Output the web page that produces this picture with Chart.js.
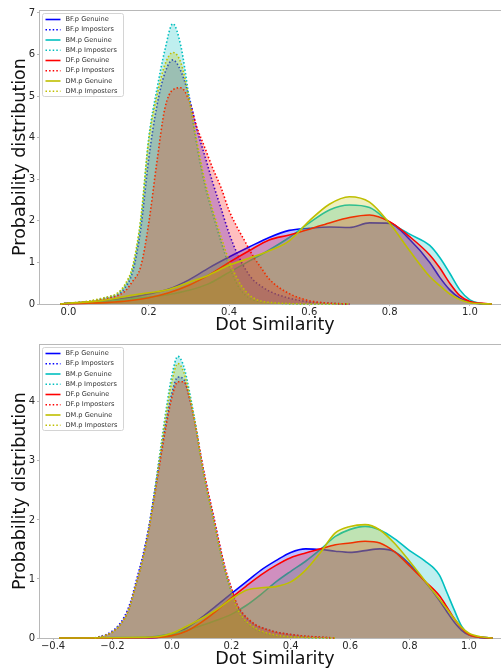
<!DOCTYPE html>
<html lang="en">
<head>
  <meta charset="UTF-8" />
  <title>Dot Similarity distributions</title>

  <!-- Chart.js for plotting -->
  <script src="https://cdn.jsdelivr.net/npm/chart.js"></script>

  <style>
    html, body {
      margin: 0;
      padding: 0;
      background: #fff;
    }

    body {
      width: 501px;
      height: 668px;
      overflow: hidden;
    }

    /* each panel is half the page, the canvas runs a bit past the right edge */
    .panel {
      width: 501px;
      height: 334px;
      overflow: hidden;
    }

    canvas {
      display: block;
    }
  </style>
</head>
<body>
  <div class="panel"><canvas id="topChart" width="510" height="334"></canvas></div>
  <div class="panel"><canvas id="bottomChart" width="510" height="334"></canvas></div>

  <script>
    // ---- series names, in legend order ----
    const seriesNames = [
      "BF.p Genuine", "BF.p Imposters",
      "BM.p Genuine", "BM.p Imposters",
      "DF.p Genuine", "DF.p Imposters",
      "DM.p Genuine", "DM.p Imposters"
    ];

    // ---- tick labels ----
    const topXTicks = [0, 0.2, 0.4, 0.6, 0.8, 1.0];
    const topYTicks = [0, 1, 2, 3, 4, 5, 6, 7];
    const botXTicks = [-0.4, -0.2, 0, 0.2, 0.4, 0.6, 0.8, 1.0];
    const botYTicks = [0, 1, 2, 3, 4];

    // ---- top panel ----
    const topImpX = [-0.02, 0, 0.05, 0.08, 0.1, 0.12, 0.14, 0.16, 0.18, 0.2, 0.22, 0.24, 0.26, 0.28, 0.3,
                     0.32, 0.34, 0.36, 0.38, 0.4, 0.42, 0.44, 0.46, 0.48, 0.5, 0.55, 0.6, 0.65, 0.7];
    const topBFImp = [0, 0.02, 0.05, 0.11, 0.16, 0.21, 0.38, 0.78, 1.8, 3.5, 4.75, 5.55, 5.87, 5.6, 5.0,
                      4.2, 3.55, 2.9, 2.3, 1.7, 1.22, 0.85, 0.58, 0.43, 0.31, 0.14, 0.05, 0.02, 0];
    const topBMImp = [0, 0.02, 0.06, 0.12, 0.17, 0.23, 0.43, 0.87, 2.0, 4.0, 5.15, 6.1, 6.74, 6.2, 5.0,
                      3.8, 2.85, 2.15, 1.5, 0.92, 0.48, 0.22, 0.1, 0.05, 0.03, 0.01, 0, 0, 0];
    const topDFImp = [0, 0.02, 0.05, 0.1, 0.14, 0.19, 0.3, 0.55, 0.9, 1.95, 3.4, 4.7, 5.15, 5.2, 4.9,
                      4.25, 3.75, 3.25, 2.8, 2.25, 1.85, 1.5, 1.15, 0.87, 0.6, 0.25, 0.08, 0.02, 0];
    const topDMImp = [0, 0.02, 0.07, 0.13, 0.18, 0.25, 0.46, 0.92, 2.05, 3.95, 5.0, 5.75, 6.05, 5.8, 4.95,
                      3.9, 2.95, 2.25, 1.62, 1.05, 0.62, 0.32, 0.15, 0.07, 0.04, 0.01, 0, 0, 0];

    const topGenX = [-0.02, 0, 0.05, 0.1, 0.15, 0.2, 0.25, 0.3, 0.35, 0.4, 0.45, 0.5, 0.55, 0.6, 0.65,
                     0.7, 0.75, 0.8, 0.85, 0.9, 0.925, 0.95, 0.975, 1.0, 1.025, 1.055];
    const topBFGen = [0, 0.02, 0.05, 0.09, 0.15, 0.24, 0.36, 0.58, 0.87, 1.13, 1.37, 1.6, 1.77, 1.82, 1.85,
                      1.84, 1.95, 1.94, 1.55, 1.0, 0.64, 0.34, 0.14, 0.04, 0.01, 0];
    const topBMGen = [0, 0.01, 0.03, 0.07, 0.12, 0.17, 0.23, 0.33, 0.49, 0.76, 1.03, 1.3, 1.6, 1.95, 2.26,
                      2.38, 2.32, 1.97, 1.68, 1.41, 1.12, 0.74, 0.34, 0.1, 0.02, 0];
    const topDFGen = [0, 0.01, 0.02, 0.04, 0.08, 0.15, 0.27, 0.45, 0.7, 1.0, 1.28, 1.54, 1.66, 1.8, 1.95,
                      2.08, 2.14, 1.98, 1.62, 1.18, 0.87, 0.5, 0.2, 0.06, 0.02, 0];
    const topDMGen = [0, 0.02, 0.05, 0.11, 0.2, 0.27, 0.35, 0.52, 0.7, 0.93, 1.1, 1.28, 1.52, 2.0, 2.4,
                      2.58, 2.45, 1.94, 1.28, 0.66, 0.44, 0.24, 0.11, 0.03, 0.01, 0];

    // ---- bottom panel ----
    const botImpX = [-0.26, -0.24, -0.22, -0.2, -0.18, -0.16, -0.14, -0.12, -0.1, -0.08, -0.06, -0.04, -0.02,
                     0, 0.02, 0.04, 0.06, 0.08, 0.1, 0.12, 0.14, 0.16, 0.18, 0.2, 0.22, 0.24, 0.26, 0.28,
                     0.3, 0.35, 0.4, 0.45, 0.5, 0.55];
    const botBFImp = [0, 0.03, 0.06, 0.12, 0.21, 0.36, 0.6, 0.97, 1.35, 1.82, 2.42, 3.05, 3.65,
                      4.15, 4.42, 4.38, 4.05, 3.58, 3.0, 2.5, 2.05, 1.58, 1.15, 0.83, 0.55, 0.4, 0.3, 0.22,
                      0.18, 0.1, 0.06, 0.03, 0.015, 0];
    const botBMImp = [0, 0.02, 0.05, 0.1, 0.19, 0.32, 0.55, 0.92, 1.3, 1.78, 2.42, 3.15, 3.85,
                      4.45, 4.77, 4.6, 4.15, 3.6, 2.97, 2.45, 2.0, 1.52, 1.1, 0.78, 0.48, 0.32, 0.22, 0.15,
                      0.1, 0.04, 0.02, 0.01, 0, 0];
    const botDFImp = [0, 0.02, 0.05, 0.1, 0.19, 0.33, 0.56, 0.93, 1.3, 1.77, 2.36, 2.98, 3.58,
                      4.08, 4.34, 4.34, 4.05, 3.58, 3.02, 2.52, 2.07, 1.6, 1.17, 0.85, 0.56, 0.41, 0.31, 0.23,
                      0.18, 0.1, 0.06, 0.03, 0.015, 0];
    const botDMImp = [0, 0.02, 0.05, 0.1, 0.19, 0.33, 0.56, 0.93, 1.3, 1.78, 2.4, 3.1, 3.78,
                      4.35, 4.65, 4.5, 4.1, 3.58, 2.97, 2.45, 2.0, 1.53, 1.12, 0.8, 0.5, 0.34, 0.24, 0.17,
                      0.12, 0.05, 0.02, 0.01, 0, 0];

    const botGenX = [-0.38, -0.3, -0.2, -0.1, -0.05, 0, 0.05, 0.1, 0.15, 0.2, 0.25, 0.3, 0.35, 0.4, 0.45,
                     0.5, 0.55, 0.6, 0.65, 0.7, 0.75, 0.8, 0.85, 0.9, 0.925, 0.95, 0.975, 1.0, 1.04, 1.08];
    const botBFGen = [0, 0, 0.002, 0.005, 0.01, 0.06, 0.17, 0.35, 0.55, 0.75, 0.95, 1.15, 1.31, 1.45, 1.51,
                      1.5, 1.47, 1.45, 1.48, 1.51, 1.46, 1.25, 0.97, 0.64, 0.45, 0.27, 0.13, 0.05, 0.01, 0];
    const botBMGen = [0, 0.003, 0.006, 0.012, 0.03, 0.07, 0.13, 0.21, 0.3, 0.4, 0.55, 0.74, 0.95, 1.13, 1.3,
                      1.5, 1.72, 1.84, 1.89, 1.83, 1.68, 1.48, 1.31, 1.07, 0.78, 0.48, 0.2, 0.06, 0.01, 0];
    const botDFGen = [0, 0, 0.002, 0.005, 0.01, 0.04, 0.12, 0.27, 0.46, 0.68, 0.88, 1.07, 1.23, 1.36, 1.44,
                      1.51, 1.58, 1.61, 1.64, 1.61, 1.46, 1.22, 0.97, 0.72, 0.53, 0.33, 0.17, 0.06, 0.01, 0];
    const botDMGen = [0, 0, 0.003, 0.01, 0.02, 0.08, 0.2, 0.33, 0.48, 0.66, 0.81, 0.85, 0.87, 0.95, 1.15,
                      1.45, 1.78, 1.89, 1.92, 1.83, 1.6, 1.3, 0.98, 0.66, 0.5, 0.33, 0.18, 0.08, 0.02, 0];

    // ---- look ----
    const lineColors = ["#0000ff", "#00bfbf", "#ff0000", "#bfbf00"];
    const fillColors = ["rgba(0,0,255,0.25)", "rgba(0,191,191,0.25)", "rgba(255,0,0,0.25)", "rgba(191,191,0,0.25)"];
    const spineColor = "#b8b8b8";
    const dotDash = [1.5, 2.1];

    Chart.defaults.font.family = '"DejaVu Sans", sans-serif';
    Chart.defaults.color = "#262626";

    function toPoints(xs, ys) {
      return xs.map((x, i) => ({ x: x, y: ys[i] }));
    }

    // gens / imps are in BF, BM, DF, DM order
    function buildDatasets(genX, gens, impX, imps) {
      const sets = [];
      for (let k = 0; k < 4; k++) {
        [[genX, gens[k], false], [impX, imps[k], true]].forEach(([xs, ys, dotted]) => {
          const idx = sets.length;
          sets.push({
            label: seriesNames[idx],
            data: toPoints(xs, ys),
            borderColor: lineColors[k],
            backgroundColor: fillColors[k],
            borderWidth: 1.6,
            borderDash: dotted ? dotDash : [],
            pointRadius: 0,
            fill: "origin",
            cubicInterpolationMode: "monotone",
            clip: 2,
            order: 8 - idx // later series painted on top, like matplotlib
          });
        });
      }
      return sets;
    }

    function fmtX(v) {
      const s = Math.abs(v).toFixed(1);
      return (v < -1e-9 ? "\u2212" : "") + s;
    }

    // frame round the plot (under the curves) and the legend box on top
    const frameLegend = {
      id: "frameLegend",
      beforeDatasetsDraw(chart) {
        const ctx = chart.ctx;
        const a = chart.chartArea;
        ctx.save();
        ctx.strokeStyle = spineColor;
        ctx.lineWidth = 1;
        ctx.strokeRect(a.left - 0.5, a.top + 0.5, a.right - a.left + 1, a.bottom - a.top);
        ctx.restore();
      },
      afterDraw(chart) {
        const ctx = chart.ctx;
        const a = chart.chartArea;
        ctx.save();
        const bx = a.left + 2.5, by = a.top + 3.5, bw = 81, bh = 83;
        ctx.fillStyle = "rgba(255,255,255,0.8)";
        ctx.strokeStyle = "#d4d4d4";
        ctx.lineWidth = 1;
        ctx.beginPath();
        ctx.roundRect(bx, by, bw, bh, 2);
        ctx.fill();
        ctx.stroke();

        ctx.font = '6.6px "DejaVu Sans"';
        ctx.textBaseline = "middle";
        chart.data.datasets.forEach((ds, i) => {
          const y = a.top + 9.5 + i * 10.25;
          ctx.strokeStyle = ds.borderColor;
          ctx.lineWidth = 1.6;
          ctx.setLineDash(ds.borderDash);
          ctx.beginPath();
          ctx.moveTo(bx + 3, y);
          ctx.lineTo(bx + 18, y);
          ctx.stroke();
          ctx.setLineDash([]);
          ctx.fillStyle = "#333";
          ctx.fillText(ds.label, bx + 23, y);
        });
        ctx.restore();
      }
    };

    function makeChart(id, datasets, xMin, xMax, yMax, xTicks, yTicks) {
      return new Chart(document.getElementById(id).getContext("2d"), {
        type: "line",
        data: { datasets: datasets },
        plugins: [frameLegend],
        options: {
          responsive: false,
          animation: false,
          events: [],
          layout: { padding: { top: 10, left: 0, right: 0, bottom: 0 } },
          plugins: {
            legend: { display: false },
            tooltip: { enabled: false }
          },
          scales: {
            x: {
              type: "linear",
              min: xMin,
              max: xMax,
              bounds: "data",
              afterBuildTicks: s => { s.ticks = xTicks.map(v => ({ value: v })); },
              ticks: {
                autoSkip: false,
                maxRotation: 0,
                padding: 0,
                font: { size: 10 },
                callback: v => fmtX(v)
              },
              grid: { drawOnChartArea: false, drawTicks: true, tickLength: 2, color: spineColor },
              border: { display: false },
              title: {
                display: true,
                text: "Dot Similarity",
                color: "#111",
                font: { size: 17.5, lineHeight: 1 },
                padding: 0
              },
              afterFit: s => { s.height = 30; }
            },
            y: {
              min: 0,
              max: yMax,
              bounds: "data",
              afterBuildTicks: s => { s.ticks = yTicks.map(v => ({ value: v })); },
              ticks: {
                autoSkip: false,
                padding: 2,
                font: { size: 10 },
                callback: v => Math.round(v).toString()
              },
              grid: { drawOnChartArea: false, drawTicks: true, tickLength: 3, color: spineColor },
              border: { display: false },
              title: {
                display: true,
                text: "Probability distribution",
                color: "#111",
                font: { size: 17.5, lineHeight: 1 },
                padding: { top: 12, bottom: 0 }
              },
              afterFit: s => { s.width = 40; }
            }
          }
        }
      });
    }

    makeChart("topChart",
      buildDatasets(topGenX, [topBFGen, topBMGen, topDFGen, topDMGen],
                    topImpX, [topBFImp, topBMImp, topDFImp, topDMImp]),
      -0.071, 1.1, 7.07, topXTicks, topYTicks);

    makeChart("bottomChart",
      buildDatasets(botGenX, [botBFGen, botBMGen, botDFGen, botDMGen],
                    botImpX, [botBFImp, botBMImp, botDFImp, botDMImp]),
      -0.444, 1.138, 4.98, botXTicks, botYTicks);
  </script>
</body>
</html>
